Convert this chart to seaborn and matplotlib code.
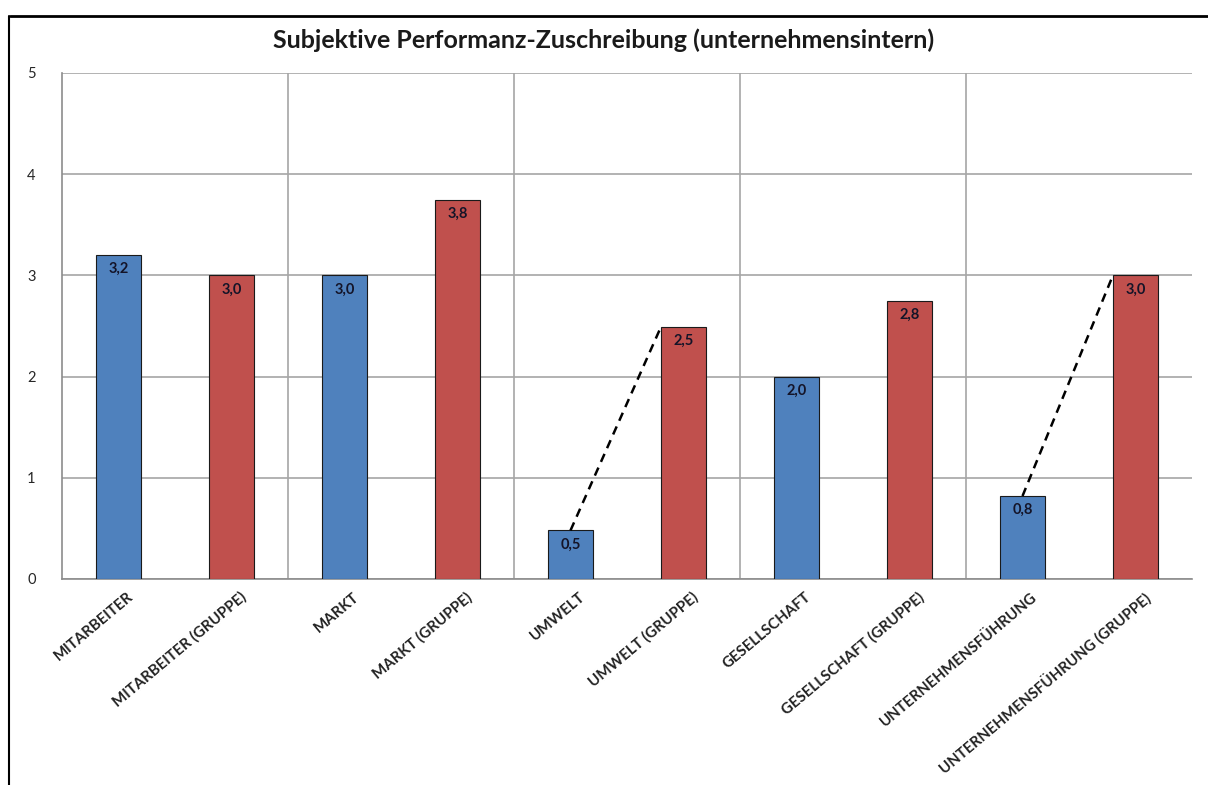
import matplotlib
matplotlib.use("Agg")
import matplotlib.pyplot as plt
import matplotlib.transforms as mtransforms
from matplotlib.lines import Line2D
import seaborn as sns
import pandas as pd

# data
categories = ['MITARBEITER', 'MITARBEITER (GRUPPE)', 'MARKT', 'MARKT (GRUPPE)',
              'UMWELT', 'UMWELT (GRUPPE)', 'GESELLSCHAFT', 'GESELLSCHAFT (GRUPPE)',
              'UNTERNEHMENSFÜHRUNG', 'UNTERNEHMENSFÜHRUNG (GRUPPE)']
values = [3.2, 3.0, 3.0, 3.75, 0.48, 2.49, 2.0, 2.75, 0.82, 3.0]
labels = ['3,2', '3,0', '3,0', '3,8', '0,5', '2,5', '2,0', '2,8', '0,8', '3,0']
bar_colors = ['#4F81BD', '#C0504D'] * 5
arrow_pairs = [(4, 5), (8, 9)]   # dashed connectors blue top -> red top

sns.set_style('white')
plt.rcParams['font.family'] = ['Lato', 'DejaVu Sans']

df = pd.DataFrame({'cat': categories, 'val': values})

fig = plt.figure(figsize=(12.08, 7.85), dpi=100)
ax = fig.add_axes([62 / 1208, 1 - 579 / 785, (1192 - 62) / 1208, (579 - 73) / 785])

sns.barplot(data=df, x='cat', y='val', hue='cat', palette=bar_colors, legend=False,
            width=0.4, edgecolor='#1a1a1a', linewidth=0.8, saturation=1, ax=ax, zorder=3)

ax.set_ylim(0, 5)
ax.set_xlim(-0.5, 9.5)
ax.set_yticks(range(6))
ax.set_xlabel('')
ax.set_ylabel('')
ax.grid(axis='y', color='#a6a6a6', linewidth=1.2, zorder=0)
for b in [1.5, 3.5, 5.5, 7.5]:
    ax.axvline(b, color='#a6a6a6', linewidth=1.2, zorder=0)

for s in ['top', 'right']:
    ax.spines[s].set_visible(False)
for s in ['left', 'bottom']:
    ax.spines[s].set_color('#8c8c8c')
    ax.spines[s].set_linewidth(1.2)

ax.tick_params(axis='y', length=5, color='#8c8c8c', labelsize=10.5, pad=14)
ax.set_xticks([i - 0.5 for i in range(11)], minor=True)
ax.tick_params(axis='x', which='minor', length=6, color='#8c8c8c', direction='out')
ax.tick_params(axis='x', which='major', length=0, pad=2)
ax.set_xticks(range(10))
ax.set_xticklabels(categories, rotation=40, ha='right', rotation_mode='anchor',
                   fontsize=10.8, fontweight='bold', color='#222222')
offset = mtransforms.ScaledTranslation(8 / 100, -8 / 100, fig.dpi_scale_trans)
for lab in ax.get_xticklabels():
    lab.set_transform(lab.get_transform() + offset)

# value labels inside the bars
for p, lab in zip(ax.patches, labels):
    ax.text(p.get_x() + p.get_width() / 2, p.get_height() - 0.07, lab,
            ha='center', va='top', fontsize=10.5, fontweight='bold',
            color='#141428', zorder=5)

# dashed connectors
for a, b in arrow_pairs:
    pa, pb = ax.patches[a], ax.patches[b]
    ax.plot([pa.get_x() + pa.get_width() / 2, pb.get_x()],
            [pa.get_height(), pb.get_height()],
            linestyle=(0, (3.5, 2.5)), color='black', linewidth=1.8, zorder=6)

fig.text(0.5, 1 - 40 / 785, 'Subjektive Performanz-Zuschreibung (unternehmensintern)',
         ha='center', va='center', fontsize=18, fontweight='bold', color='#1a1a1a')

# outer frame lines
fig.add_artist(Line2D([10 / 1208, 1], [1 - 16 / 785, 1 - 16 / 785],
                      transform=fig.transFigure, color='black', linewidth=2))
fig.add_artist(Line2D([9 / 1208, 9 / 1208], [0, 1 - 16 / 785],
                      transform=fig.transFigure, color='black', linewidth=1.5))

fig.savefig('out.png', dpi=100)
